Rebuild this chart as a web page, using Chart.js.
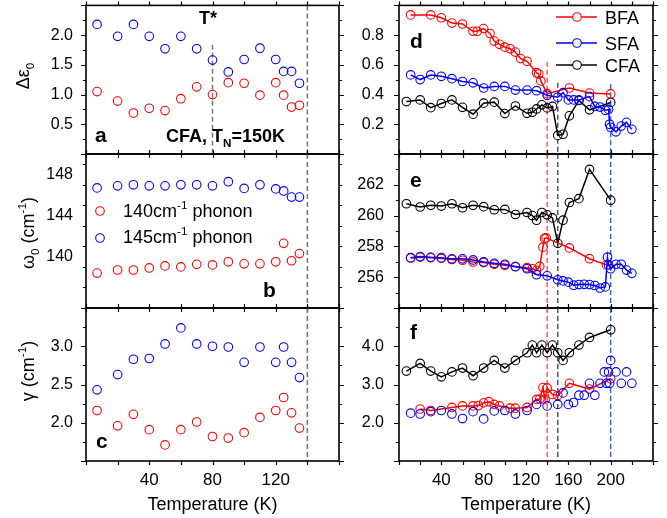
<!DOCTYPE html>
<html>
<head>
<meta charset="utf-8">
<script src="https://cdn.jsdelivr.net/npm/chart.js@4.4.0/dist/chart.umd.min.js"></script>
<style>
  body { margin: 0; background: #fff; }
  #wrap { position: relative; width: 667px; height: 518px; }
  #wrap canvas { position: absolute; left: 0; top: 0; }
</style>
</head>
<body>
<div id="wrap">
  <canvas id="pa" width="667" height="518"></canvas>
  <canvas id="pb" width="667" height="518"></canvas>
  <canvas id="pc" width="667" height="518"></canvas>
  <canvas id="pd" width="667" height="518"></canvas>
  <canvas id="pe" width="667" height="518"></canvas>
  <canvas id="pf" width="667" height="518"></canvas>
</div>
<script>
const W = 667, H = 518;
const FONT = '"Liberation Sans", Arial, Helvetica, sans-serif';
Chart.defaults.font.family = FONT;
Chart.defaults.color = '#000';

const RED = '#ff0000', BLUE = '#0000ff', BLACK = '#000000';

// ---- left column: CFA phonons (a, b, c)
const tLeft = [7, 20, 30, 40, 50, 60, 70, 80, 90, 100, 110, 120, 125, 130, 135];
const epsRed = [1.05, 0.89, 0.69, 0.77, 0.73, 0.93, 1.13, 1.0, 1.2, 1.19, 0.99, 1.2, 0.99, 0.79, 0.82];
const epsBlue = [2.18, 1.98, 2.18, 1.98, 1.77, 1.98, 1.77, 1.58, 1.38, 1.59, 1.78, 1.59, 1.39, 1.39, 1.19];
const w0Red = [138.4, 138.7, 138.7, 138.9, 139.1, 139.0, 139.25, 139.2, 139.5, 139.3, 139.3, 139.5, 141.3, 139.6, 140.3];
const w0Blue = [146.7, 146.9, 147.0, 146.9, 146.9, 147.0, 147.0, 146.9, 147.3, 146.65, 147.0, 146.6, 146.4, 145.8, 145.8];
const gamRed = [2.16, 1.96, 2.11, 1.91, 1.71, 1.91, 2.01, 1.82, 1.80, 1.87, 2.07, 2.16, 2.33, 2.13, 1.93];
const gamBlue = [2.43, 2.63, 2.83, 2.84, 3.03, 3.24, 3.03, 3.0, 2.99, 2.79, 2.99, 2.79, 2.99, 2.79, 2.59];

// ---- right column: BFA / SFA / CFA (d, e, f)
const tCfa = [7, 20, 30, 40, 50, 60, 70, 80, 90, 100, 110, 121, 126, 130, 135, 140, 145, 150, 155, 161, 170, 180, 200];
const cfaD = [0.353, 0.364, 0.312, 0.34, 0.364, 0.314, 0.268, 0.342, 0.349, 0.272, 0.323, 0.274, 0.281, 0.303, 0.331, 0.31, 0.32, 0.125, 0.133, 0.257, 0.36, 0.297, 0.347];
const cfaE = [260.77, 260.56, 260.67, 260.62, 260.77, 260.51, 260.67, 260.58, 260.38, 260.4, 260.07, 260.2, 260.0, 259.7, 260.2, 260.05, 259.85, 258.2, 259.7, 260.85, 261.1, 263.0, 261.0];
const cfaF = [3.35, 3.55, 3.35, 3.2, 3.33, 3.43, 3.23, 3.43, 3.63, 3.43, 3.63, 3.83, 4.03, 3.83, 4.03, 3.83, 4.03, 3.83, 3.63, 3.83, 4.03, 4.23, 4.43];

const tBfaD = [11, 30, 40, 50, 60, 70, 74, 80, 86, 90, 95, 100, 105, 110, 115, 121, 130, 132, 134, 140, 161, 180, 200];
const bfaD = [0.936, 0.936, 0.917, 0.881, 0.875, 0.826, 0.826, 0.844, 0.811, 0.760, 0.738, 0.719, 0.708, 0.686, 0.642, 0.624, 0.547, 0.538, 0.492, 0.406, 0.444, 0.41, 0.404];
const tSfaD = [11, 20, 30, 40, 50, 60, 70, 80, 90, 100, 110, 121, 130, 140, 150, 155, 160, 165, 170, 180, 185, 190, 195, 198, 199, 200, 205, 210, 215, 220];
const sfaD = [0.532, 0.501, 0.532, 0.523, 0.507, 0.488, 0.479, 0.444, 0.455, 0.455, 0.43, 0.43, 0.426, 0.395, 0.382, 0.413, 0.364, 0.364, 0.364, 0.386, 0.32, 0.316, 0.294, 0.30, 0.2, 0.18, 0.149, 0.188, 0.213, 0.166];

const tBfaE = [11, 20, 30, 40, 50, 60, 70, 80, 90, 100, 110, 121, 126, 130, 133, 136, 137.5, 139, 161, 180, 196];
const bfaE = [257.25, 257.3, 257.27, 257.22, 257.15, 257.1, 256.99, 256.95, 256.84, 256.77, 256.7, 256.62, 256.55, 256.45, 256.7, 257.95, 258.52, 258.55, 257.9, 257.2, 256.8];
const tSfaE = [11, 20, 30, 40, 50, 60, 70, 80, 90, 100, 110, 121, 130, 140, 150, 155, 160, 165, 170, 175, 180, 185, 190, 195, 197, 198, 200, 205, 210, 215, 220];
const sfaE = [257.27, 257.34, 257.29, 257.27, 257.19, 257.19, 257.12, 256.99, 256.9, 256.84, 256.68, 256.55, 256.16, 256.09, 255.83, 255.76, 255.68, 255.48, 255.52, 255.54, 255.52, 255.46, 255.3, 255.37, 257.3, 256.8, 256.55, 256.84, 256.84, 256.46, 256.25];

const tBfaF = [20, 30, 50, 60, 70, 75, 80, 85, 90, 95, 105, 110, 121, 130, 133, 136, 138, 140, 145, 150, 161, 180, 200];
const bfaF = [2.36, 2.32, 2.4, 2.44, 2.44, 2.45, 2.52, 2.55, 2.48, 2.44, 2.38, 2.38, 2.4, 2.61, 2.62, 2.92, 2.61, 2.91, 2.74, 2.71, 3.03, 2.88, 3.15];
const tSfaF = [11, 20, 30, 40, 50, 60, 70, 80, 90, 100, 110, 121, 130, 140, 150, 155, 160, 165, 170, 175, 180, 185, 190, 194, 196, 198, 199, 200, 205, 210, 215, 220];
const sfaF = [2.25, 2.23, 2.29, 2.32, 2.23, 2.11, 2.29, 2.1, 2.31, 2.32, 2.23, 2.32, 2.48, 2.44, 2.48, 2.78, 2.48, 2.53, 2.72, 2.72, 3.03, 2.72, 3.03, 3.33, 3.03, 3.33, 3.03, 3.63, 3.33, 3.03, 3.33, 3.03];

const pts = (xs, ys) => xs.map((x, i) => ({ x, y: ys[i] }));

function series(xs, ys, color, line) {
  return {
    data: pts(xs, ys),
    showLine: line,
    borderColor: color,
    borderWidth: 1.5,
    backgroundColor: 'rgba(0,0,0,0)',
    pointBorderColor: color,
    pointBackgroundColor: 'rgba(0,0,0,0)',
    pointBorderWidth: 1.1,
    pointRadius: 4.3,
    tension: 0
  };
}

// text with _sub and ^sup pieces
function drawRich(ctx, segs, x, y, size, bold, align) {
  const w = bold ? 'bold ' : '';
  const parts = segs.map(s => {
    const sub = s[0] === '_', sup = s[0] === '^';
    const txt = (sub || sup) ? s.slice(1) : s;
    const sz = (sub || sup) ? size * 0.65 : size;
    ctx.font = w + sz + 'px ' + FONT;
    return { txt, sz, dy: sub ? size * 0.28 : sup ? -size * 0.42 : 0, width: ctx.measureText(txt).width };
  });
  const total = parts.reduce((a, p) => a + p.width, 0);
  let cx = align === 'center' ? x - total / 2 : align === 'right' ? x - total : x;
  ctx.textAlign = 'left';
  ctx.textBaseline = 'alphabetic';
  parts.forEach(p => {
    ctx.font = w + p.sz + 'px ' + FONT;
    ctx.fillText(p.txt, cx, y + p.dy);
    cx += p.width;
  });
}

function decoPlugin(d) {
  return {
    id: 'deco',
    beforeDatasetsDraw(chart) {
      const { ctx, chartArea: a, scales: { x, y } } = chart;
      ctx.save();
      ctx.lineWidth = 1.5;
      ctx.setLineDash([5, 3]);
      (d.vlines || []).forEach(v => {
        const px = x.getPixelForValue(v.x);
        const top = v.from === undefined ? a.top : y.getPixelForValue(v.from);
        ctx.strokeStyle = v.color;
        ctx.beginPath();
        ctx.moveTo(px, top);
        ctx.lineTo(px, a.bottom);
        ctx.stroke();
      });
      ctx.restore();
    },
    afterDraw(chart) {
      const { ctx, chartArea: a, scales: { x, y } } = chart;
      ctx.save();
      // frame
      ctx.strokeStyle = '#000';
      ctx.lineWidth = 1.6;
      ctx.strokeRect(a.left, a.top, a.right - a.left, a.bottom - a.top);
      // outward tick marks on all four sides
      ctx.lineWidth = 1.2;
      ctx.beginPath();
      for (let v = x.min; v <= x.max + 1e-9; v += d.xMinor) {
        const px = Math.round(x.getPixelForValue(v)) + 0.5;
        ctx.moveTo(px, a.bottom); ctx.lineTo(px, a.bottom + 4);
        ctx.moveTo(px, a.top); ctx.lineTo(px, a.top - 4);
      }
      for (let i = 0; ; i++) {
        const v = y.min + i * d.yMinor;
        if (v > y.max + 1e-9) break;
        const r = v / d.yMajor;
        const len = Math.abs(r - Math.round(r)) < 1e-6 ? 5 : 3;
        const py = Math.round(y.getPixelForValue(v)) + 0.5;
        ctx.moveTo(a.left, py); ctx.lineTo(a.left - len, py);
        ctx.moveTo(a.right, py); ctx.lineTo(a.right + len, py);
      }
      ctx.stroke();
      ctx.fillStyle = '#000';
      // texts
      (d.texts || []).forEach(t => {
        ctx.save();
        ctx.fillStyle = t.color || '#000';
        if (t.rot) {
          ctx.translate(t.x, t.y);
          ctx.rotate(-Math.PI / 2);
          drawRich(ctx, t.segs, 0, 0, t.size, t.bold, 'center');
        } else {
          drawRich(ctx, t.segs, t.x, t.y, t.size, t.bold, t.align || 'left');
        }
        ctx.restore();
      });
      // legend entries
      (d.legend || []).forEach(l => {
        ctx.strokeStyle = l.color;
        ctx.setLineDash([]);
        if (l.x2) {
          ctx.lineWidth = 1.5;
          ctx.beginPath();
          ctx.moveTo(l.x1, l.y); ctx.lineTo(l.x2, l.y);
          ctx.stroke();
        }
        ctx.lineWidth = 1.1;
        ctx.fillStyle = '#fff';
        ctx.beginPath();
        ctx.arc(l.cx, l.y, 4.3, 0, Math.PI * 2);
        if (l.x2) ctx.fill();
        ctx.stroke();
        ctx.fillStyle = '#000';
        drawRich(ctx, l.segs, l.tx, l.ty, 18, false, 'left');
      });
      ctx.restore();
    }
  };
}

function panel(id, box, xs, ys, datasets, deco) {
  const isEnd = (v, s) => Math.abs(v - s.min) < 1e-6 || Math.abs(v - s.max) < 1e-6;
  deco.xMinor = xs.minor;
  deco.yMinor = ys.minor;
  deco.yMajor = ys.step;
  new Chart(document.getElementById(id), {
    type: 'scatter',
    data: { datasets },
    options: {
      responsive: false,
      animation: false,
      events: [],
      layout: { padding: { left: 0, top: box.t, right: W - box.r, bottom: 0 } },
      plugins: { legend: { display: false }, tooltip: { enabled: false } },
      scales: {
        x: {
          type: 'linear', min: xs.min, max: xs.max,
          grid: { display: false, drawTicks: false }, border: { display: false },
          ticks: {
            display: !!xs.labels, stepSize: xs.step, autoSkip: false, maxRotation: 0,
            padding: 9, font: { size: 17 },
            callback: v => isEnd(v, xs) ? null : String(v)
          },
          title: { display: !!xs.labels, text: 'Temperature (K)', font: { size: 18 }, padding: { top: 0, bottom: 2 } },
          afterFit: s => { s.height = H - box.b; s.paddingLeft = 0; s.paddingRight = 0; }
        },
        y: {
          type: 'linear', min: ys.min, max: ys.max,
          grid: { display: false, drawTicks: false }, border: { display: false },
          ticks: {
            stepSize: ys.step, padding: ys.pad, font: { size: 16 },
            callback: v => isEnd(v, ys) ? null : v.toFixed(ys.dec)
          },
          afterFit: s => { s.width = box.l; s.paddingTop = 0; s.paddingBottom = 0; }
        }
      }
    },
    plugins: [decoPlugin(deco)]
  });
}

const LX = { min: 0, max: 160, step: 40, minor: 20 };
const RX = { min: 0, max: 240, step: 40, minor: 20 };
const GREY = '#777777';

// (a)
panel('pa', { l: 86, t: 3, r: 339, b: 154 }, LX,
  { min: 0, max: 2.5, step: 0.5, minor: 0.25, dec: 1, pad: 13 },
  [series(tLeft, epsBlue, BLUE, false), series(tLeft, epsRed, RED, false)],
  {
    vlines: [{ x: 140, color: GREY }, { x: 80, color: GREY, from: 1.84 }],
    texts: [
      { segs: ['\u0394\u03b5', '_0'], x: 29, y: 76, size: 18, rot: true },
      { segs: ['a'], x: 95, y: 142, size: 21, bold: true },
      { segs: ['T*'], x: 208, y: 24, size: 18, bold: true, align: 'center' },
      { segs: ['CFA, T', '_N', '=150K'], x: 166, y: 142, size: 18, bold: true }
    ]
  });

// (b)
panel('pb', { l: 86, t: 154, r: 339, b: 308 }, LX,
  { min: 135, max: 150, step: 4, minor: 2, dec: 0, pad: 13 },
  [series(tLeft, w0Blue, BLUE, false), series(tLeft, w0Red, RED, false)],
  {
    vlines: [{ x: 140, color: GREY }],
    texts: [
      { segs: ['\u03c9', '_0', ' (cm', '^-1', ')'], x: 34, y: 233, size: 18, rot: true },
      { segs: ['b'], x: 263, y: 297, size: 21, bold: true }
    ],
    legend: [
      { color: RED, cx: 100, y: 211, segs: ['140cm', '^-1', ' phonon'], tx: 123, ty: 217 },
      { color: BLUE, cx: 100, y: 238, segs: ['145cm', '^-1', ' phonon'], tx: 123, ty: 243 }
    ]
  });

// (c)
panel('pc', { l: 86, t: 308, r: 339, b: 461 }, Object.assign({ labels: true }, LX),
  { min: 1.5, max: 3.5, step: 0.5, minor: 0.25, dec: 1, pad: 13 },
  [series(tLeft, gamBlue, BLUE, false), series(tLeft, gamRed, RED, false)],
  {
    vlines: [{ x: 140, color: GREY }],
    texts: [
      { segs: ['\u03b3', ' (cm', '^-1', ')'], x: 34, y: 371, size: 18, rot: true },
      { segs: ['c'], x: 96, y: 448, size: 21, bold: true }
    ]
  });

const RDASH = [
  { x: 140, color: '#ff5c5c' },
  { x: 150, color: '#555555' },
  { x: 200, color: '#3a62f2' }
];

// (d)
panel('pd', { l: 399, t: 3, r: 653, b: 154 }, RX,
  { min: 0, max: 1.0, step: 0.2, minor: 0.1, dec: 1, pad: 15 },
  [series(tSfaD, sfaD, BLUE, true), series(tBfaD, bfaD, RED, true), series(tCfa, cfaD, BLACK, true)],
  {
    vlines: [
      { x: 140, color: '#ff5c5c', from: 0.62 },
      { x: 150, color: '#555555', from: 0.48 },
      { x: 200, color: '#3a62f2', from: 0.47 }
    ],
    texts: [{ segs: ['d'], x: 410, y: 48, size: 21, bold: true }],
    legend: [
      { color: RED, x1: 556, x2: 597, cx: 577, y: 17, segs: ['BFA'], tx: 605, ty: 24 },
      { color: BLUE, x1: 556, x2: 597, cx: 577, y: 43, segs: ['SFA'], tx: 605, ty: 50 },
      { color: BLACK, x1: 556, x2: 597, cx: 577, y: 65, segs: ['CFA'], tx: 605, ty: 72 }
    ]
  });

// (e)
panel('pe', { l: 399, t: 154, r: 653, b: 308 }, RX,
  { min: 254, max: 264, step: 2, minor: 1, dec: 0, pad: 15 },
  [series(tSfaE, sfaE, BLUE, true), series(tBfaE, bfaE, RED, true), series(tCfa, cfaE, BLACK, true)],
  {
    vlines: RDASH,
    texts: [{ segs: ['e'], x: 410, y: 187, size: 21, bold: true }]
  });

// (f)
panel('pf', { l: 399, t: 308, r: 653, b: 461 }, Object.assign({ labels: true }, RX),
  { min: 1, max: 5, step: 1, minor: 0.5, dec: 1, pad: 15 },
  [series(tSfaF, sfaF, BLUE, false), series(tBfaF, bfaF, RED, true), series(tCfa, cfaF, BLACK, true)],
  {
    vlines: RDASH,
    texts: [{ segs: ['f'], x: 410, y: 339, size: 21, bold: true }]
  });
</script>
</body>
</html>
